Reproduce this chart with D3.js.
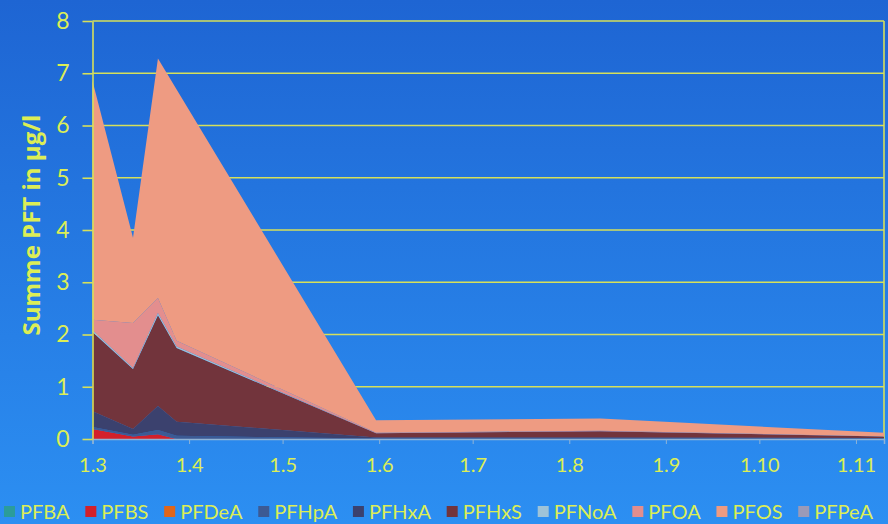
<!DOCTYPE html>
<html>
<head>
<meta charset="utf-8">
<script src="https://cdn.jsdelivr.net/npm/d3@7/dist/d3.min.js"></script>
<style>
  html, body { margin: 0; padding: 0; background: #2477e2; }
  svg { display: block; }
  text { font-family: Lato, "Open Sans", "DejaVu Sans", sans-serif; }
</style>
</head>
<body>
<svg id="chart" width="888" height="524"></svg>
<script>
// Sampling dates (day.month on the axis)
const sampleDates = ["2010-03-01", "2010-03-14", "2010-03-22", "2010-03-28", "2010-05-31", "2010-08-11", "2010-11-10"];

// Concentrations per compound, µg/l
const PFBA  = [0, 0, 0, 0, 0, 0, 0];
const PFBS  = [0.19, 0.05, 0.09, 0, 0, 0, 0];
const PFDeA = [0, 0, 0, 0, 0, 0, 0];
const PFHpA = [0.04, 0.03, 0.08, 0.06, 0.01, 0.01, 0.01];
const PFHxA = [0.30, 0.11, 0.46, 0.27, 0.02, 0.02, 0.01];
const PFHxS = [1.52, 1.15, 1.74, 1.41, 0.08, 0.12, 0.03];
const PFNoA = [0.03, 0.02, 0.04, 0.03, 0, 0, 0];
const PFOA  = [0.20, 0.86, 0.29, 0.11, 0.01, 0.01, 0];
const PFOS  = [4.57, 1.63, 4.58, 4.81, 0.24, 0.23, 0.07];
const PFPeA = [0, 0, 0, 0, 0, 0, 0];

const seriesNames = ["PFBA", "PFBS", "PFDeA", "PFHpA", "PFHxA", "PFHxS", "PFNoA", "PFOA", "PFOS", "PFPeA"];
const seriesValues = [PFBA, PFBS, PFDeA, PFHpA, PFHxA, PFHxS, PFNoA, PFOA, PFOS, PFPeA];
const seriesColors = ["#2b9c9a", "#d2202a", "#e0661a", "#3c5a94", "#3b416e", "#72343c", "#9ec3d8", "#e38e8e", "#ee9b82", "#9a9ab8"];

// Axis ticks
const yTicks = [0, 1, 2, 3, 4, 5, 6, 7, 8];
const xTickDates = ["2010-03-01", "2010-04-01", "2010-05-01", "2010-06-01", "2010-07-01", "2010-08-01", "2010-09-01", "2010-10-01", "2010-11-01"];
const yTitle = "Summe PFT in µg/l";

const parse = d3.timeParse("%Y-%m-%d");
const fmt = d3.timeFormat("%-d.%-m");
const yellow = "#dcee55";
const gridColor = "#d6e05a";

const W = 888, H = 524;
const plot = { left: 92.5, right: 884, top: 21, bottom: 439 };

const svg = d3.select("#chart");

// background gradient
const defs = svg.append("defs");
const grad = defs.append("linearGradient").attr("id", "bg").attr("x1", 0).attr("y1", 0).attr("x2", 0).attr("y2", 1);
grad.append("stop").attr("offset", "0%").attr("stop-color", "#1e65d3");
grad.append("stop").attr("offset", "100%").attr("stop-color", "#2c8ff2");
svg.append("rect").attr("width", W).attr("height", H).attr("fill", "url(#bg)");

// table for the stack
const table = sampleDates.map((d, i) => {
  const row = { date: parse(d) };
  seriesNames.forEach((n, k) => { row[n] = seriesValues[k][i]; });
  return row;
});

const x = d3.scaleTime()
  .domain([parse(sampleDates[0]), parse(sampleDates[sampleDates.length - 1])])
  .range([plot.left, plot.right]);
const y = d3.scaleLinear().domain([0, 8]).range([plot.bottom, plot.top]);

// horizontal gridlines
svg.append("g").selectAll("line").data(yTicks.slice(1)).join("line")
  .attr("x1", plot.left).attr("x2", plot.right)
  .attr("y1", d => y(d)).attr("y2", d => y(d))
  .attr("stroke", gridColor).attr("stroke-width", 1.6);

// right frame line
svg.append("line")
  .attr("x1", plot.right).attr("x2", plot.right)
  .attr("y1", plot.top).attr("y2", plot.bottom)
  .attr("stroke", gridColor).attr("stroke-width", 1.6);

// stacked areas
const stack = d3.stack().keys(seriesNames);
const layers = stack(table);
const area = d3.area()
  .x(d => x(d.data.date))
  .y0(d => y(d[0]))
  .y1(d => y(d[1]));

svg.append("g").selectAll("path").data(layers).join("path")
  .attr("d", area)
  .attr("fill", (d, i) => seriesColors[i]);

// x axis
const xAxis = d3.axisBottom(x)
  .tickValues(xTickDates.map(parse))
  .tickFormat(fmt)
  .tickSize(5)
  .tickPadding(14);
const gx = svg.append("g").attr("transform", `translate(0,${plot.bottom})`).call(xAxis);
gx.select(".domain").attr("stroke", "#8fb3d6").attr("stroke-width", 1.5);
gx.selectAll(".tick line").attr("stroke", "#8fb3d6").attr("stroke-width", 1);
gx.selectAll(".tick text")
  .attr("fill", yellow)
  .style("font-size", "20px");

// y axis
const yAxis = d3.axisLeft(y).tickValues(yTicks).tickSize(10).tickPadding(13).tickSizeOuter(0);
const gy = svg.append("g").attr("transform", `translate(${plot.left},0)`).call(yAxis);
gy.select(".domain").attr("stroke", gridColor).attr("stroke-width", 1.6);
gy.selectAll(".tick line").attr("stroke", gridColor).attr("stroke-width", 1.6);
gy.selectAll(".tick text")
  .attr("fill", yellow)
  .style("font-size", "23px");

// y title
svg.append("text")
  .attr("transform", `translate(40,225) rotate(-90)`)
  .attr("text-anchor", "middle")
  .attr("fill", yellow)
  .style("font-family", "'Open Sans', Lato, sans-serif")
  .style("font-size", "24px")
  .style("font-weight", "bold")
  .text(yTitle);

// legend
const legend = svg.append("g").attr("transform", "translate(0,512)");
const items = legend.selectAll("g").data(seriesNames).join("g");
items.append("rect")
  .attr("width", 11).attr("height", 11).attr("y", -6)
  .attr("fill", (d, i) => seriesColors[i]);
items.append("text")
  .attr("x", 16).attr("dy", "0.35em")
  .attr("fill", yellow)
  .style("font-size", "20px")
  .text(d => d);
// lay out entries so they span the full width
const widths = items.nodes().map(n => 16 + n.querySelector("text").getComputedTextLength());
const legendLeft = 4, legendRight = 873;
const gap = (legendRight - legendLeft - d3.sum(widths)) / (seriesNames.length - 1);
let cx = legendLeft;
items.each(function (d, i) {
  d3.select(this).attr("transform", `translate(${cx},0)`);
  cx += widths[i] + gap;
});
</script>
</body>
</html>
